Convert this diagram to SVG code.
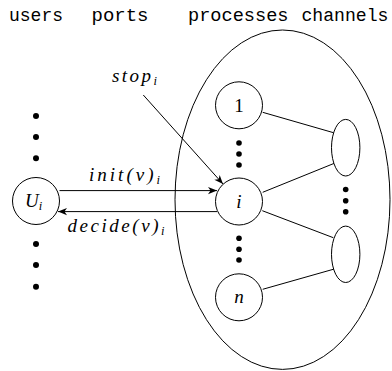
<svg xmlns="http://www.w3.org/2000/svg" width="392" height="371" viewBox="0 0 392 371">
  <style>
    .hdr { font-family: "Liberation Mono", "DejaVu Sans Mono", monospace; font-size: 18px; fill: #000; }
    .math { font-family: "Liberation Serif", "DejaVu Serif", serif; font-style: italic; font-size: 19px; fill: #000; }
    .sub { font-size: 12.5px; }
    .num { font-family: "Liberation Serif", "DejaVu Serif", serif; font-size: 19px; fill: #000; }
    .node { fill: #fff; stroke: #000; stroke-width: 1; }
    .edge { fill: none; stroke: #000; stroke-width: 1; }
    .dot { fill: #000; }
  </style>
  <defs>
    <marker id="arrow" markerUnits="userSpaceOnUse" markerWidth="12" markerHeight="10" refX="0" refY="0" viewBox="-11 -5 12 10" orient="auto">
      <path d="M0,0 L-9,-3.6 L-6.5,0 L-9,3.6 Z" fill="#000"/>
    </marker>
  </defs>

  <!-- column headings -->
  <g id="headings">
    <text class="hdr" x="9" y="21" textLength="54" lengthAdjust="spacingAndGlyphs">users</text>
    <text class="hdr" x="91.5" y="21" textLength="57" lengthAdjust="spacingAndGlyphs">ports</text>
    <text class="hdr" x="188" y="21" textLength="100.5" lengthAdjust="spacingAndGlyphs">processes</text>
    <text class="hdr" x="301.5" y="21" textLength="87" lengthAdjust="spacingAndGlyphs">channels</text>
  </g>

  <!-- enclosing process/channel region -->
  <g id="system">
    <ellipse class="edge" cx="282.5" cy="199.7" rx="107.5" ry="169.7"/>
  </g>

  <!-- connectors -->
  <g id="connectors">
    <line class="edge" x1="262.7" y1="112.3" x2="333.5" y2="132.7"/>
    <line class="edge" x1="262.7" y1="192.3" x2="334.3" y2="163.3"/>
    <line class="edge" x1="262.3" y1="210.7" x2="333.3" y2="237.7"/>
    <line class="edge" x1="262.7" y1="289.3" x2="334.3" y2="269"/>
    <line class="edge" x1="59.5" y1="190.6" x2="217" y2="190.6" marker-end="url(#arrow)"/>
    <line class="edge" x1="217" y1="211.6" x2="58" y2="211.6" marker-end="url(#arrow)"/>
    <line class="edge" x1="143.3" y1="95" x2="223" y2="184" marker-end="url(#arrow)"/>
  </g>

  <!-- connector labels -->
  <g id="labels">
    <text class="math" x="112" y="82" textLength="45" lengthAdjust="spacing">stop<tspan class="sub" dy="3">i</tspan></text>
    <text class="math" x="89" y="181" textLength="71" lengthAdjust="spacing">init(v)<tspan class="sub" dy="3">i</tspan></text>
    <text class="math" x="67.5" y="232" textLength="97" lengthAdjust="spacing">decide(v)<tspan class="sub" dy="3">i</tspan></text>
  </g>

  <!-- user U_i -->
  <g id="user-i">
    <circle class="node" cx="36" cy="201" r="23.5"/>
    <text class="math" x="25" y="207" font-size="19">U<tspan class="sub" dy="3">i</tspan></text>
  </g>

  <!-- elided users -->
  <g id="user-dots">
    <circle class="dot" cx="36" cy="116" r="3"/>
    <circle class="dot" cx="36" cy="137" r="3"/>
    <circle class="dot" cx="36" cy="158.3" r="3"/>
    <circle class="dot" cx="36" cy="244" r="3"/>
    <circle class="dot" cx="36" cy="265" r="3"/>
    <circle class="dot" cx="36" cy="286.7" r="3"/>
  </g>

  <!-- processes -->
  <g id="process-1">
    <circle class="node" cx="239" cy="105.3" r="23.5"/>
    <text class="num" x="239" y="112" text-anchor="middle">1</text>
  </g>
  <g id="process-i">
    <circle class="node" cx="239" cy="201.5" r="23.5"/>
    <text class="math" x="239" y="207.5" text-anchor="middle">i</text>
  </g>
  <g id="process-n">
    <circle class="node" cx="239" cy="297.3" r="23.5"/>
    <text class="math" x="239" y="302.5" text-anchor="middle" font-size="21">n</text>
  </g>
  <g id="process-dots">
    <circle class="dot" cx="239" cy="143" r="2.8"/>
    <circle class="dot" cx="239" cy="154" r="2.8"/>
    <circle class="dot" cx="239" cy="165" r="2.8"/>
    <circle class="dot" cx="239" cy="238.3" r="2.8"/>
    <circle class="dot" cx="239" cy="249.3" r="2.8"/>
    <circle class="dot" cx="239" cy="260" r="2.8"/>
  </g>

  <!-- channels -->
  <g id="channel-upper">
    <ellipse class="node" cx="345.7" cy="147.7" rx="14.2" ry="28.3"/>
  </g>
  <g id="channel-lower">
    <ellipse class="node" cx="345.7" cy="254.3" rx="14.2" ry="28.2"/>
  </g>
  <g id="channel-dots">
    <circle class="dot" cx="345.7" cy="189.5" r="2.8"/>
    <circle class="dot" cx="345.7" cy="200.7" r="2.8"/>
    <circle class="dot" cx="345.7" cy="211.7" r="2.8"/>
  </g>
</svg>
